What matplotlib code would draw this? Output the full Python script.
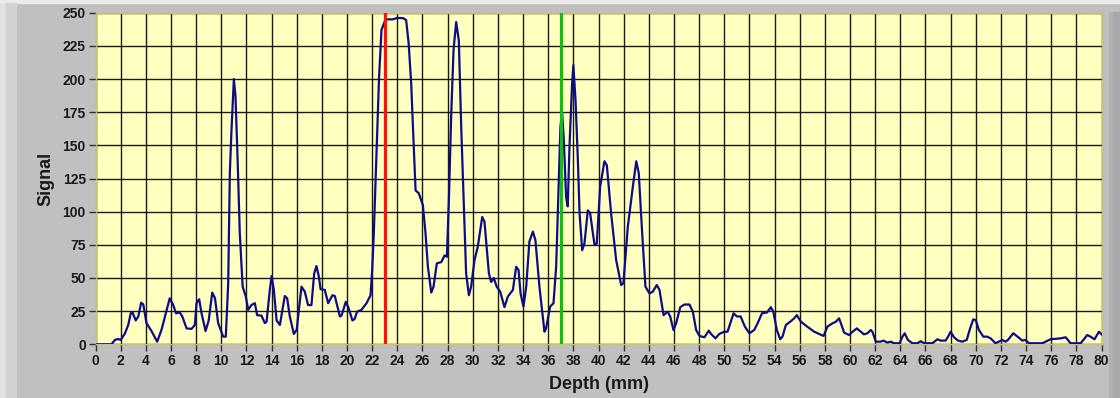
import matplotlib
matplotlib.use("Agg")
import matplotlib.pyplot as plt
from matplotlib.patches import Rectangle

# depth (mm) / signal
depth = [0.0, 1.27, 1.54, 1.8, 2.0, 2.33, 2.6, 2.8, 2.94, 3.2, 3.4, 3.63, 3.8,
         4.05, 4.45, 4.9, 5.25, 5.5, 5.9, 6.18, 6.4, 6.7, 6.9, 7.24, 7.63, 7.9,
         8.03, 8.24, 8.43, 8.75, 9.0, 9.28, 9.5, 9.75, 10.15, 10.36, 10.55,
         10.68, 10.8, 11.0, 11.13, 11.3, 11.47, 11.7, 11.95, 12.14, 12.4, 12.67,
         12.85, 13.2, 13.46, 13.6, 13.86, 14.0, 14.18, 14.4, 14.66, 15.05,
         15.24, 15.45, 15.77, 16.0, 16.17, 16.38, 16.64, 16.9, 17.17, 17.39,
         17.57, 17.76, 17.9, 18.23, 18.5, 18.84, 19.03, 19.43, 19.56, 19.9,
         20.1, 20.43, 20.6, 20.8, 21.15, 21.55, 21.87, 22.0, 22.13, 22.34,
         22.55, 22.74, 23.06, 23.64, 23.96, 24.44, 24.7, 24.9, 25.1, 25.29,
         25.45, 25.7, 26.03, 26.24, 26.43, 26.7, 26.88, 27.14, 27.5, 27.75,
         27.94, 28.1, 28.28, 28.47, 28.68, 28.89, 29.08, 29.29, 29.47, 29.69,
         29.87, 30.14, 30.4, 30.75, 30.93, 31.28, 31.46, 31.67, 31.9, 32.18,
         32.52, 32.79, 33.19, 33.45, 33.64, 33.8, 34.03, 34.25, 34.5, 34.78,
         34.98, 35.3, 35.7, 35.83, 36.15, 36.42, 36.63, 36.84, 36.97, 37.1,
         37.24, 37.42, 37.55, 37.69, 37.9, 38.0, 38.17, 38.35, 38.49, 38.7,
         38.88, 39.15, 39.33, 39.68, 39.86, 40.13, 40.47, 40.66, 41.0, 41.4,
         41.8, 41.98, 42.33, 42.73, 43.0, 43.2, 43.47, 43.73, 44.05, 44.32,
         44.63, 44.85, 45.17, 45.5, 45.7, 45.96, 46.17, 46.5, 46.83, 47.23,
         47.5, 47.76, 48.03, 48.42, 48.77, 48.95, 49.3, 49.6, 50.0, 50.26,
         50.74, 51.0, 51.3, 51.64, 52.0, 52.38, 52.65, 53.0, 53.4, 53.7, 53.9,
         54.18, 54.45, 54.63, 54.9, 55.24, 55.56, 55.77, 56.1, 56.6, 57.15,
         57.55, 57.9, 58.2, 58.6, 58.87, 59.13, 59.32, 59.53, 59.93, 60.2,
         60.54, 60.86, 61.1, 61.38, 61.65, 61.78, 62.05, 62.44, 62.65, 62.97,
         63.24, 63.5, 63.95, 64.17, 64.35, 64.6, 64.96, 65.36, 65.62, 65.9,
         66.55, 66.95, 67.2, 67.6, 67.8, 68.0, 68.27, 68.59, 68.93, 69.28,
         69.55, 69.8, 70.0, 70.25, 70.6, 70.9, 71.18, 71.57, 71.84, 72.1,
         72.37, 72.56, 72.98, 73.43, 73.7, 73.96, 74.23, 75.3, 75.55, 75.95,
         76.75, 77.15, 77.54, 78.34, 78.6, 78.86, 79.12, 79.44, 79.8, 80.0]
signal = [0, 0, 3.3, 4, 3.3, 8, 14.6, 23.4, 24, 18, 21, 31.4, 30,
          16, 10, 2, 11, 20, 34.7, 29.6, 23.4, 24, 21, 12, 11.6, 14.6,
          31, 34, 23.4, 10, 18, 39, 34.7, 16, 5.8, 5.8, 46,
          129, 159, 200, 187, 139, 84, 43.5, 36, 26, 29.6, 31,
          22, 21.6, 16, 17, 41, 51.5, 41, 18, 14.6, 36.4,
          34.7, 21, 7.8, 11, 26, 43.5, 39.7, 29.6, 29.6, 53.5,
          59, 51, 41.5, 41, 31, 37, 36.4, 21, 21.6, 32,
          28, 18, 19, 24.6, 26, 31, 37, 56, 84, 144,
          202, 237, 245, 245, 246, 246, 244.5, 227, 197, 154,
          116, 114, 105, 84, 58.5, 39, 43.5, 61, 62, 67,
          66, 109, 171.6, 222, 243, 229, 164, 104, 53.5, 37,
          43.5, 63.6, 73.6, 96, 92.5, 53.5, 47, 50, 43.5, 39.7,
          28, 36, 41, 58.5, 56, 38.4, 28.4, 43.5, 77.4, 85,
          78.6, 43.5, 9.5, 12, 28.4, 31, 58.5, 124, 164, 175,
          154, 111, 104, 149, 197, 210.5, 184, 141, 99, 71,
          76, 101, 99, 75, 76, 119, 138, 135, 99, 63.6,
          44.7, 46, 88.7, 119, 138, 129, 84, 43.5, 38.4, 39.7,
          44.7, 41, 22, 24.6, 21, 10.8, 15.8, 28, 30, 30,
          24.6, 10.8, 6.3, 5.3, 10.3, 7.8, 4.5, 7.8, 9.5, 9.5,
          23.4, 21, 21, 13.3, 8.3, 10.8, 15.8, 23.4, 24, 28, 24.6,
          10.8, 3.8, 5.8, 14.6, 17, 19.6, 22, 17, 13.3, 9.5,
          7.8, 6.3, 13.3, 15.8, 17, 19.6, 14.6, 8.8, 7, 9.5,
          12, 9.5, 7.5, 8.3, 10.8, 9.5, 2, 2, 2.8, 1.3,
          2, 0.8, 0.8, 5.8, 8.3, 3.3, 0.8, 0.8, 2.3, 0.8,
          0.8, 3.8, 2.8, 2.8, 5.8, 9.5, 5.3, 2.8, 2, 3.3,
          12, 18.8, 18.3, 10.8, 5.8, 5.8, 4.5, 0.8, 2, 3.3,
          2, 3.3, 8.3, 5, 2.8, 3.3, 0.8, 0.8, 2, 3.8,
          4.5, 5.3, 0.8, 0.8, 3.8, 7, 5.8, 3.8, 9.5, 7.5]

red_cursor = 23.0
green_cursor = 37.0
x_ticks = list(range(0, 81, 2))
y_ticks = list(range(0, 251, 25))

plt.rcParams['font.family'] = ['Liberation Sans', 'DejaVu Sans']

fig = plt.figure(figsize=(11.2, 3.98), dpi=100)
fig.patch.set_facecolor('#c0c0c0')

# window chrome: light strips on the top and left edge, shading on the right
fig.patches.append(Rectangle((0, 0.993), 1, 0.007, transform=fig.transFigure,
                             color='#ececec', zorder=0))
fig.patches.append(Rectangle((0, 0), 0.005, 0.993, transform=fig.transFigure,
                             color='#e2e2e2', zorder=0))
fig.patches.append(Rectangle((0.005, 0), 0.009, 0.993, transform=fig.transFigure,
                             color='#d2d2d2', zorder=0))
fig.patches.append(Rectangle((0.99, 0), 0.004, 0.97, transform=fig.transFigure,
                             color='#b2b2b2', zorder=0))
fig.patches.append(Rectangle((0.994, 0), 0.006, 0.97, transform=fig.transFigure,
                             color='#a8a8a8', zorder=0))

ax = fig.add_axes([0.0853, 0.1349, 0.8982, 0.8331])
ax.set_facecolor('#ffffc0')

ax.plot(depth, signal, color='#0c0c8a', lw=1.6, zorder=3)
ax.axvline(red_cursor, color='#ff1010', lw=2.3, zorder=4)
ax.axvline(green_cursor, color='#10c010', lw=2.3, zorder=4)

ax.set_xlim(0, 80)
ax.set_ylim(0, 250)
ax.set_xticks(x_ticks)
ax.set_yticks(y_ticks)
ax.grid(True, color='#1a1a0a', lw=1.0, zorder=1)
ax.set_axisbelow(True)

for s in ax.spines.values():
    s.set_color('#c8c070')
    s.set_linewidth(1.0)

ax.tick_params(axis='both', direction='out', length=5, width=1, color='#303030',
               labelsize=10, pad=2)
for lbl in ax.get_xticklabels() + ax.get_yticklabels():
    lbl.set_fontweight('bold')
    lbl.set_color('#1a1a1a')

ax.set_xlabel('Depth (mm)', fontsize=13, fontweight='bold', color='#1a1a1a', labelpad=6)
ax.set_ylabel('Signal', fontsize=13, fontweight='bold', color='#1a1a1a', labelpad=6)

fig.savefig('out.png', dpi=100, facecolor=fig.get_facecolor())
